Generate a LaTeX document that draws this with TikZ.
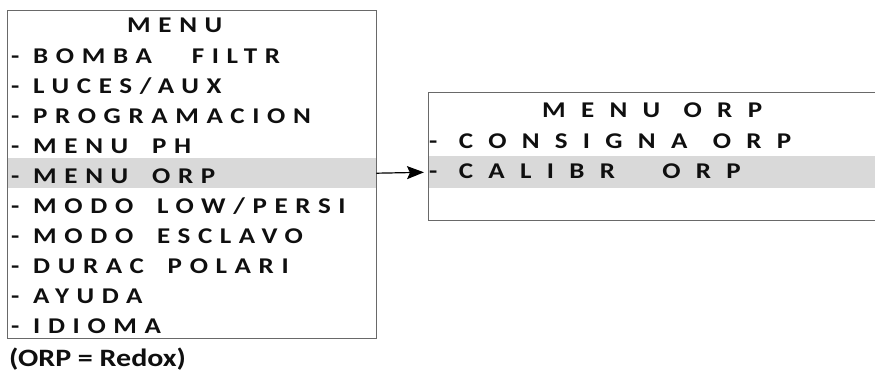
\documentclass[tikz,border=0pt]{standalone}
\usepackage{fontspec}
\setmainfont{Carlito}[FakeStretch=1.2]
\newfontfamily\menufont{Carlito}[LetterSpace=34, FakeStretch=1.2]
\newfontfamily\subfont{Carlito}[LetterSpace=68, FakeStretch=1.2]
\usetikzlibrary{arrows.meta,positioning}
\definecolor{rowgray}{RGB}{217,217,217}
\definecolor{framegray}{RGB}{105,105,105}
\definecolor{inkblack}{RGB}{15,15,15}

\begin{document}
\begin{tikzpicture}[x=1pt, y=-1pt,
  frame/.style={draw=framegray, line width=1.2pt, inner sep=0pt, anchor=north west},
  hilite/.style={fill=rowgray, inner sep=0pt, anchor=north west},
  item/.style={anchor=base west, inner sep=0pt, text=inkblack,
    font=\menufont\bfseries\fontsize{22.5}{24}\selectfont},
  subitem/.style={item, font=\subfont\bfseries\fontsize{22.5}{24}\selectfont},
  arr/.style={-{Stealth[length=17pt, width=13pt, inset=3pt]}, line width=1.2pt,
    shorten >=5pt}
]
\useasboundingbox (0,0) rectangle (875,372);
\clip (0,0) rectangle (875,372);

% selected rows
\node[hilite, minimum width=368pt, minimum height=30pt] (selmain) at (8,158) {};
\node[hilite, minimum width=446pt, minimum height=32pt] (selorp) at (429,156) {};

% frames
\node[frame, minimum width=369pt, minimum height=328pt] (mainmenu) at (7,10) {};
\node[frame, minimum width=460pt, minimum height=128pt] (orpmenu) at (428,92) {};

% main menu
\node[item] (ttlmain) at (127,32) {MENU};
\node[item] (bomba) at (11,63) {- BOMBA\hspace{26pt} FILTR};
\node[item] (luces) at (11,93) {- LUCES/AUX};
\node[item] (prog) at (11,123) {- PROGRAMACION};
\node[item] (menuph) at (11,153) {- MENU\hspace{10pt} PH};
\node[item] (menuorp) at (11,183) {- MENU\hspace{10pt} ORP};
\node[item] (modolow) at (11,213) {- MODO\hspace{10pt} LOW/PERSI};
\node[item] (esclavo) at (11,243) {- MODO\hspace{10pt} ESCLAVO};
\node[item] (durac) at (11,273) {- DURAC\hspace{10pt} POLARI};
\node[item] (ayuda) at (11,303) {- AYUDA};
\node[item] (idioma) at (11,333) {- IDIOMA};

% ORP menu
\node[subitem] (ttlorp) at (542,117) {MENU\hspace{2pt} ORP};
\node[subitem] (consigna) at (429,148) {- CONSIGNA\hspace{4pt} ORP};
\node[subitem] (calibr) at (429,178) {- CALIBR\hspace{26pt} ORP};

\node[anchor=base west, inner sep=0pt, text=inkblack,
  font=\bfseries\fontsize{25}{27}\selectfont] (note) at (9,366) {(ORP = Redox)};

\draw[arr] (selmain.east) -- (selorp.west);
\end{tikzpicture}
\end{document}
